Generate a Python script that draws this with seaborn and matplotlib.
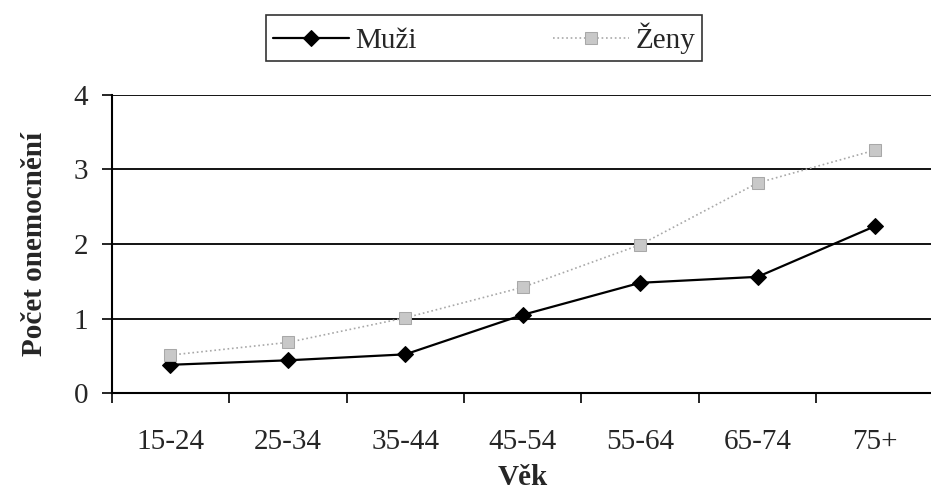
import numpy as np
import pandas as pd
import matplotlib
matplotlib.use('Agg')
import matplotlib.pyplot as plt
import seaborn as sns

vek = ['15-24', '25-34', '35-44', '45-54', '55-64', '65-74', '75+']
muzi = [0.38, 0.44, 0.52, 1.05, 1.48, 1.56, 2.24]
zeny = [0.51, 0.68, 1.01, 1.42, 1.99, 2.82, 3.26]
y_ticks = [0, 1, 2, 3, 4]

sns.set_style('white')
plt.rcParams['font.family'] = ['Liberation Serif', 'DejaVu Serif']
plt.rcParams['xtick.bottom'] = True
plt.rcParams['ytick.left'] = True

df = pd.DataFrame({'Věk': vek, 'Muži': muzi, 'Ženy': zeny})

fig = plt.figure(figsize=(9.31, 4.92), dpi=100)
ax = fig.add_axes([0.120, 0.201, 0.883, 0.606])

sns.lineplot(data=df, x='Věk', y='Muži', ax=ax, color='black', linewidth=1.6,
             marker='D', markersize=8, markeredgecolor='black', label='Muži', sort=False)
sns.lineplot(data=df, x='Věk', y='Ženy', ax=ax, color='#a8a8a8', linewidth=1.2,
             linestyle=':', marker='s', markersize=8, markerfacecolor='#c8c8c8',
             markeredgecolor='#a8a8a8', label='Ženy', sort=False)

ax.set_ylim(0, 4)
ax.set_xlim(-0.5, len(vek) - 0.5)
ax.set_yticks(y_ticks)
ax.set_yticklabels([str(t) for t in y_ticks], fontsize=21)
for t in y_ticks[1:]:
    ax.axhline(t, color='black', linewidth=1.3, zorder=0)

ax.set_xticks(np.arange(len(vek)))
ax.set_xticklabels(vek, fontsize=21)
ax.tick_params(axis='x', which='major', length=0, pad=26)
ax.set_xticks(np.arange(len(vek)) - 0.5, minor=True)
ax.tick_params(axis='x', which='minor', length=7, width=1.2, direction='out',
               color='black', bottom=True)
ax.tick_params(axis='y', length=7, width=1.2, direction='out', color='black',
               left=True, pad=10)

for s in ['top', 'right']:
    ax.spines[s].set_visible(False)
for s in ['left', 'bottom']:
    ax.spines[s].set_color('black')
    ax.spines[s].set_linewidth(1.5)

ax.set_xlabel('Věk', fontsize=21, fontweight='bold', labelpad=6)
ax.set_ylabel('Počet onemocnění', fontsize=21, fontweight='bold', labelpad=18)

leg = ax.legend(loc='center', ncol=2, fontsize=21, frameon=True, fancybox=False,
                handlelength=2.6, columnspacing=4.7, borderpad=0.25, handletextpad=0.2)
leg.get_frame().set_edgecolor('black')
leg.get_frame().set_linewidth(1.2)
leg.set_bbox_to_anchor((0.520, 0.922), transform=fig.transFigure)

fig.savefig('out.png', dpi=100)
